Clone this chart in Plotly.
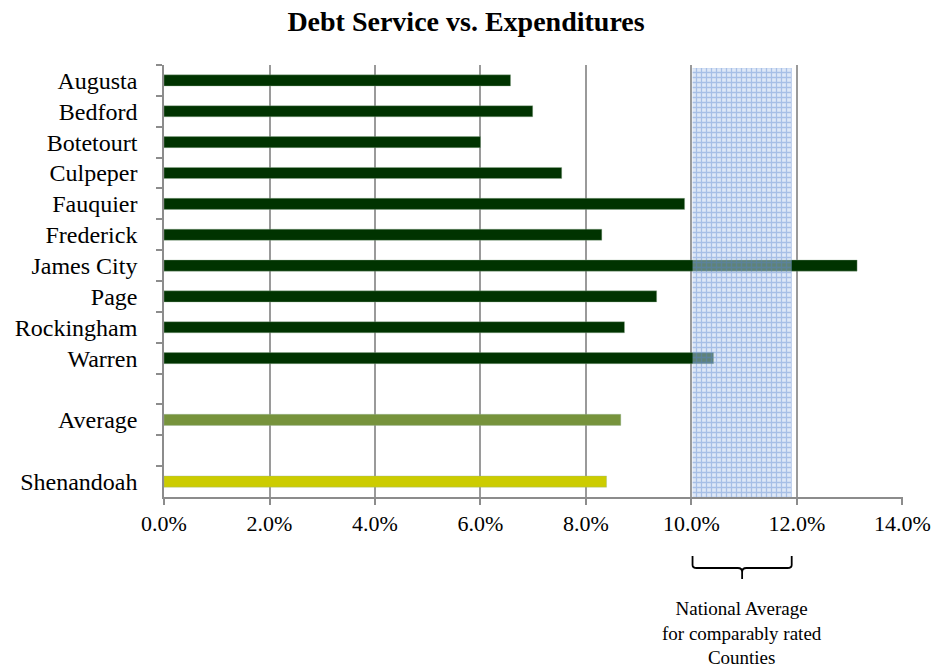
import plotly.graph_objects as go

# ---- data ----
categories = ["Augusta", "Bedford", "Botetourt", "Culpeper", "Fauquier", "Frederick",
              "James City", "Page", "Rockingham", "Warren", " ", "Average", "  ", "Shenandoah"]
values = [0.0657, 0.0699, 0.0600, 0.0754, 0.0987, 0.0830,
          0.1314, 0.0934, 0.0873, 0.1042, None, 0.0866, None, 0.0839]
bar_colors = ["#003300"] * 10 + ["#003300", "#77933C", "#003300", "#CCCC00"]
x_ticks = [0, 0.02, 0.04, 0.06, 0.08, 0.10, 0.12, 0.14]
band_low, band_high = 0.1002, 0.119
band_label = "National Average<br>for comparably rated<br>Counties"

FONT = "Liberation Serif, Times New Roman, serif"

W, H = 932, 667
ml, mr, mt, mb = 164, 29, 65, 170
plot_h = H - mt - mb


def py(pix):
    """pixel y -> paper y"""
    return (H - mb - pix) / plot_h


fig = go.Figure()
fig.add_trace(go.Bar(
    y=categories, x=values, orientation="h",
    marker=dict(color=bar_colors, line=dict(color="rgba(150,180,150,0.6)", width=0.6)),
    width=0.36, showlegend=False, hoverinfo="x+y",
))

# national average band (drawn on top of bars, on an overlay axis 0..1)
fig.add_trace(go.Scatter(
    x=[band_low, band_high, band_high, band_low, band_low],
    y=[0, 0, 1, 1, 0], yaxis="y2", mode="lines",
    line=dict(width=0), fill="toself",
    fillcolor="rgba(170,195,235,0.6)",
    fillpattern=dict(shape="+", fgcolor="rgba(85,130,205,0.8)",
                     bgcolor="rgba(190,210,240,0.5)", size=5, solidity=0.45),
    showlegend=False, hoverinfo="skip",
))

# brace under the band
mid = (band_low + band_high) / 2
y_top, y_h, y_bot = py(556), py(568), py(579)
r = 0.0008
path = (f"M {band_low},{y_top} L {band_low},{py(565)} Q {band_low},{y_h} {band_low + r},{y_h} "
        f"L {mid - r},{y_h} Q {mid},{y_h} {mid},{py(572)} L {mid},{y_bot} "
        f"M {mid},{py(572)} Q {mid},{y_h} {mid + r},{y_h} "
        f"L {band_high - r},{y_h} Q {band_high},{y_h} {band_high},{py(565)} L {band_high},{y_top}")
fig.add_shape(type="path", path=path, xref="x", yref="paper",
              line=dict(color="black", width=1.8))

fig.add_annotation(x=mid, y=py(596), xref="x", yref="paper", text=band_label,
                   showarrow=False, yanchor="top", xanchor="center", align="center",
                   font=dict(family=FONT, size=19, color="black"))

fig.update_layout(
    width=W, height=H,
    margin=dict(l=ml, r=mr, t=mt, b=mb),
    paper_bgcolor="white", plot_bgcolor="white",
    title=dict(text="<b>Debt Service vs. Expenditures</b>", x=0.5, xanchor="center",
               y=1 - 21 / H, yanchor="middle",
               font=dict(family=FONT, size=28, color="black")),
    font=dict(family=FONT, color="black"),
    bargap=0.64,
    xaxis=dict(range=[0, 0.1401], tickvals=x_ticks, tickformat=".1%",
               showgrid=True, gridcolor="#9a9a9a", gridwidth=1.5,
               showline=True, linecolor="#8c8c8c", linewidth=1.5,
               ticks="outside", ticklen=6, tickcolor="#8c8c8c", tickwidth=1.5,
               tickfont=dict(family=FONT, size=22), zeroline=False, automargin=False),
    yaxis=dict(categoryorder="array", categoryarray=categories, autorange="reversed",
               showline=True, linecolor="#8c8c8c", linewidth=1.5,
               ticks="outside", ticklen=6, tickcolor="#8c8c8c", tickwidth=1.5,
               tickson="boundaries", showgrid=False, automargin=False,
               tickfont=dict(family=FONT, size=24), ticklabelstandoff=20),
    yaxis2=dict(overlaying="y", range=[0, 1.007], visible=False, fixedrange=True),
)

fig.write_html("out.html", config={"displayModeBar": False},
               post_script="document.body.style.margin='0';")
